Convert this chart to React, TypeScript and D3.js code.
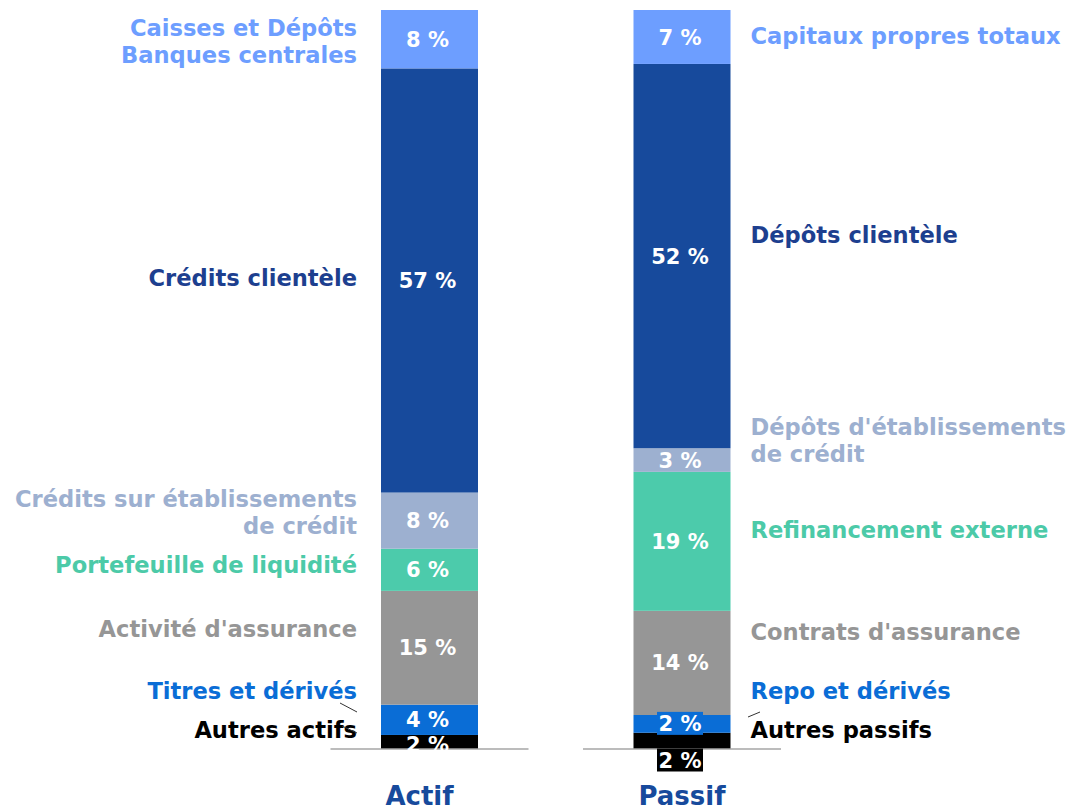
import React from "react";
import * as d3 from "d3";

// ---- data (bottom to top) ----
const categories = ["Actif", "Passif"];

const actifNames = [
  "Autres actifs",
  "Titres et dérivés",
  "Activité d'assurance",
  "Portefeuille de liquidité",
  "Crédits sur établissements\nde crédit",
  "Crédits clientèle",
  "Caisses et Dépôts\nBanques centrales",
];
const actifValues = [1.9, 4.1, 15.4, 5.7, 7.6, 57.4, 7.9];
const actifLabels = ["2 %", "4 %", "15 %", "6 %", "8 %", "57 %", "8 %"];

const passifNames = [
  "Autres passifs",
  "Repo et dérivés",
  "Contrats d'assurance",
  "Refinancement externe",
  "Dépôts d'établissements\nde crédit",
  "Dépôts clientèle",
  "Capitaux propres totaux",
];
const passifValues = [2.2, 2.4, 14.1, 18.8, 3.2, 52.0, 7.3];
const passifLabels = ["2 %", "2 %", "14 %", "19 %", "3 %", "52 %", "7 %"];

// ---- styles ----
const segColors = ["#000000", "#0a6dd6", "#969696", "#4ccbab", "#9db0d0", "#174a9c", "#6d9eff"];
const textColors = ["#000000", "#0a6dd6", "#969696", "#4ccaa8", "#9db0d0", "#1d3f8f", "#6d9eff"];
// side-label vertical offset (px) from segment centre
const actifNameOffset = [-12, -29, -19, -5, -8, -3, 2];
const passifNameOffset = [-11, -33, -31, -11, -20, -21, -1];

const W = 1089;
const H = 812;
const FONT = "'DejaVu Sans', sans-serif";

export default function App() {
  const y = d3.scaleLinear().domain([0, 100]).range([749, 10]);
  const x = d3.scalePoint<string>().domain(categories).range([429.5, 682]);
  const barW = 97;

  const series = [
    { cat: "Actif", names: actifNames, values: actifValues, labels: actifLabels, off: actifNameOffset, side: -1 },
    { cat: "Passif", names: passifNames, values: passifValues, labels: passifLabels, off: passifNameOffset, side: 1 },
  ];

  return (
    <svg
      width={W}
      height={H}
      style={{ position: "absolute", left: 0, top: 0, background: "#fff" }}
      fontFamily={FONT}
      fontWeight="bold"
    >
      {series.map((s) => {
        const cx = x(s.cat)!;
        const stack = d3.cumsum(s.values);
        const segs = s.values.map((v, i) => ({
          y0: i === 0 ? 0 : stack[i - 1],
          y1: stack[i],
          i,
        }));
        const labelX = s.side < 0 ? cx - barW / 2 - 24 : cx + barW / 2 + 20;
        return (
          <g key={s.cat}>
            {segs.map((sg) => (
              <rect
                key={"r" + sg.i}
                x={cx - barW / 2}
                width={barW}
                y={y(sg.y1)}
                height={y(sg.y0) - y(sg.y1)}
                fill={segColors[sg.i]}
              />
            ))}
            {/* axis line */}
            <line x1={cx - 99} x2={cx + 99} y1={y(0)} y2={y(0)} stroke="#a6a6a6" strokeWidth={1.5} />
            {segs.map((sg) => {
              const mid = (y(sg.y0) + y(sg.y1)) / 2;
              let ty = mid;
              let box: string | null = null;
              if (s.cat === "Passif" && sg.i === 0) {
                ty = y(0) + 11;
                box = "#000";
              } else if (s.cat === "Passif" && sg.i === 1) {
                ty = mid - 0.5;
                box = segColors[1];
              } else if (s.cat === "Actif" && sg.i === 0) {
                ty = mid + 2;
              }
              return (
                <g key={"l" + sg.i}>
                  {box && <rect x={cx - 25} y={ty - 11.5} width={46} height={23} fill={box} />}
                  <text x={cx - 2} y={ty} dy="0.36em" textAnchor="middle" fill="#fff" fontSize={21}>
                    {s.labels[sg.i]}
                  </text>
                </g>
              );
            })}
            {segs.map((sg) => {
              const mid = (y(sg.y0) + y(sg.y1)) / 2 + s.off[sg.i];
              const lines = s.names[sg.i].split("\n");
              const lh = 27;
              const start = mid - ((lines.length - 1) * lh) / 2;
              return (
                <text
                  key={"n" + sg.i}
                  x={labelX}
                  textAnchor={s.side < 0 ? "end" : "start"}
                  fill={textColors[sg.i]}
                  fontSize={22.6}
                >
                  {lines.map((ln, k) => (
                    <tspan key={k} x={labelX} y={start + k * lh} dy="0.36em">
                      {ln}
                    </tspan>
                  ))}
                </text>
              );
            })}
            <text
              x={cx + (s.cat === "Actif" ? -10 : 0)}
              y={805}
              textAnchor="middle"
              fill="#174a9c"
              fontSize={26}
            >
              {s.cat}
            </text>
          </g>
        );
      })}
      {/* leader lines */}
      <line x1={340} y1={703} x2={357} y2={712} stroke="#333" strokeWidth={1} />
      <line x1={342} y1={726} x2={357} y2={733} stroke="#333" strokeWidth={1} />
      <line x1={748} y1={717} x2={760} y2={712} stroke="#333" strokeWidth={1} />
    </svg>
  );
}
